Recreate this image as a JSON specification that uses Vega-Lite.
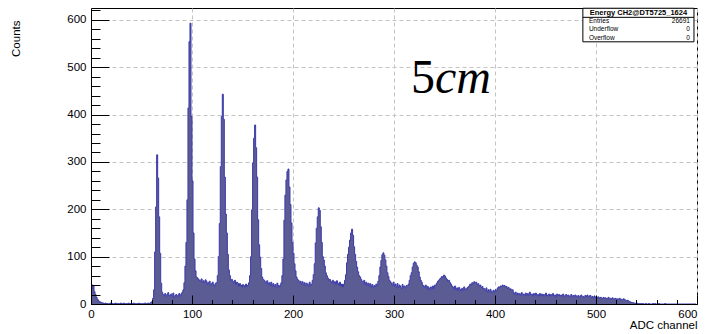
{
"$schema": "https://vega.github.io/schema/vega-lite/v6.json",
"width": 606, "height": 296,
"autosize": "none",
"padding": {"left": 91, "top": 8, "right": 8, "bottom": 30},
"background": "white",
"config": {"view": {"stroke": "#000", "strokeWidth": 1}, "font": "Liberation Sans"},
"datasets": {
"hist": [
{"b":0,"c":30},{"b":1,"c":40},{"b":2,"c":38},{"b":3,"c":26},{"b":4,"c":20},{"b":5,"c":14},{"b":6,"c":10},{"b":7,"c":7},{"b":8,"c":5},{"b":9,"c":4},
{"b":10,"c":3},{"b":11,"c":2},{"b":12,"c":2},{"b":13,"c":1},{"b":14,"c":2},{"b":15,"c":1},{"b":16,"c":1},{"b":17,"c":0},{"b":18,"c":1},{"b":19,"c":2},
{"b":20,"c":1},{"b":21,"c":1},{"b":22,"c":0},{"b":23,"c":1},{"b":24,"c":2},{"b":25,"c":1},{"b":26,"c":1},{"b":27,"c":1},{"b":28,"c":0},{"b":29,"c":2},
{"b":30,"c":1},{"b":31,"c":1},{"b":32,"c":2},{"b":33,"c":1},{"b":34,"c":0},{"b":35,"c":1},{"b":36,"c":1},{"b":37,"c":2},{"b":38,"c":1},{"b":39,"c":1},
{"b":40,"c":0},{"b":41,"c":1},{"b":42,"c":2},{"b":43,"c":1},{"b":44,"c":1},{"b":45,"c":0},{"b":46,"c":1},{"b":47,"c":2},{"b":48,"c":1},{"b":49,"c":1},
{"b":50,"c":0},{"b":51,"c":1},{"b":52,"c":1},{"b":53,"c":2},{"b":54,"c":1},{"b":55,"c":1},{"b":56,"c":2},{"b":57,"c":1},{"b":58,"c":2},{"b":59,"c":3},
{"b":60,"c":5},{"b":61,"c":12},{"b":62,"c":30},{"b":63,"c":110},{"b":64,"c":205},{"b":65,"c":315},{"b":66,"c":266},{"b":67,"c":184},{"b":68,"c":107},{"b":69,"c":44},
{"b":70,"c":25},{"b":71,"c":20},{"b":72,"c":18},{"b":73,"c":22},{"b":74,"c":15},{"b":75,"c":20},{"b":76,"c":24},{"b":77,"c":17},{"b":78,"c":19},{"b":79,"c":21},
{"b":80,"c":16},{"b":81,"c":23},{"b":82,"c":14},{"b":83,"c":18},{"b":84,"c":20},{"b":85,"c":15},{"b":86,"c":19},{"b":87,"c":22},{"b":88,"c":17},{"b":89,"c":21},
{"b":90,"c":25},{"b":91,"c":30},{"b":92,"c":45},{"b":93,"c":80},{"b":94,"c":130},{"b":95,"c":220},{"b":96,"c":414},{"b":97,"c":554},{"b":98,"c":593},{"b":99,"c":396},
{"b":100,"c":260},{"b":101,"c":150},{"b":102,"c":95},{"b":103,"c":70},{"b":104,"c":57},{"b":105,"c":55},{"b":106,"c":52},{"b":107,"c":50},{"b":108,"c":48},{"b":109,"c":53},
{"b":110,"c":46},{"b":111,"c":49},{"b":112,"c":44},{"b":113,"c":51},{"b":114,"c":47},{"b":115,"c":42},{"b":116,"c":45},{"b":117,"c":48},{"b":118,"c":40},{"b":119,"c":43},
{"b":120,"c":46},{"b":121,"c":41},{"b":122,"c":38},{"b":123,"c":44},{"b":124,"c":45},{"b":125,"c":60},{"b":126,"c":100},{"b":127,"c":170},{"b":128,"c":290},{"b":129,"c":396},
{"b":130,"c":443},{"b":131,"c":390},{"b":132,"c":268},{"b":133,"c":190},{"b":134,"c":150},{"b":135,"c":105},{"b":136,"c":72},{"b":137,"c":60},{"b":138,"c":50},{"b":139,"c":52},
{"b":140,"c":48},{"b":141,"c":45},{"b":142,"c":50},{"b":143,"c":42},{"b":144,"c":46},{"b":145,"c":44},{"b":146,"c":38},{"b":147,"c":43},{"b":148,"c":40},{"b":149,"c":36},
{"b":150,"c":41},{"b":151,"c":39},{"b":152,"c":35},{"b":153,"c":42},{"b":154,"c":37},{"b":155,"c":40},{"b":156,"c":45},{"b":157,"c":60},{"b":158,"c":100},{"b":159,"c":199},
{"b":160,"c":298},{"b":161,"c":350},{"b":162,"c":378},{"b":163,"c":330},{"b":164,"c":268},{"b":165,"c":178},{"b":166,"c":125},{"b":167,"c":99},{"b":168,"c":75},{"b":169,"c":57},
{"b":170,"c":52},{"b":171,"c":50},{"b":172,"c":47},{"b":173,"c":44},{"b":174,"c":49},{"b":175,"c":42},{"b":176,"c":45},{"b":177,"c":40},{"b":178,"c":46},{"b":179,"c":38},
{"b":180,"c":43},{"b":181,"c":37},{"b":182,"c":41},{"b":183,"c":35},{"b":184,"c":44},{"b":185,"c":39},{"b":186,"c":36},{"b":187,"c":40},{"b":188,"c":45},{"b":189,"c":60},
{"b":190,"c":95},{"b":191,"c":177},{"b":192,"c":230},{"b":193,"c":262},{"b":194,"c":280},{"b":195,"c":285},{"b":196,"c":247},{"b":197,"c":210},{"b":198,"c":171},{"b":199,"c":130},
{"b":200,"c":107},{"b":201,"c":85},{"b":202,"c":70},{"b":203,"c":57},{"b":204,"c":52},{"b":205,"c":50},{"b":206,"c":46},{"b":207,"c":48},{"b":208,"c":43},{"b":209,"c":47},
{"b":210,"c":41},{"b":211,"c":45},{"b":212,"c":39},{"b":213,"c":44},{"b":214,"c":42},{"b":215,"c":38},{"b":216,"c":46},{"b":217,"c":40},{"b":218,"c":42},{"b":219,"c":50},
{"b":220,"c":62},{"b":221,"c":85},{"b":222,"c":129},{"b":223,"c":160},{"b":224,"c":184},{"b":225,"c":203},{"b":226,"c":198},{"b":227,"c":163},{"b":228,"c":130},{"b":229,"c":100},
{"b":230,"c":93},{"b":231,"c":80},{"b":232,"c":66},{"b":233,"c":60},{"b":234,"c":55},{"b":235,"c":50},{"b":236,"c":52},{"b":237,"c":48},{"b":238,"c":45},{"b":239,"c":50},
{"b":240,"c":43},{"b":241,"c":47},{"b":242,"c":41},{"b":243,"c":49},{"b":244,"c":44},{"b":245,"c":40},{"b":246,"c":46},{"b":247,"c":38},{"b":248,"c":42},{"b":249,"c":36},
{"b":250,"c":42},{"b":251,"c":50},{"b":252,"c":62},{"b":253,"c":87},{"b":254,"c":105},{"b":255,"c":120},{"b":256,"c":135},{"b":257,"c":150},{"b":258,"c":158},{"b":259,"c":145},
{"b":260,"c":121},{"b":261,"c":105},{"b":262,"c":90},{"b":263,"c":78},{"b":264,"c":68},{"b":265,"c":60},{"b":266,"c":57},{"b":267,"c":52},{"b":268,"c":48},{"b":269,"c":45},
{"b":270,"c":50},{"b":271,"c":42},{"b":272,"c":46},{"b":273,"c":40},{"b":274,"c":44},{"b":275,"c":38},{"b":276,"c":43},{"b":277,"c":36},{"b":278,"c":41},{"b":279,"c":35},
{"b":280,"c":39},{"b":281,"c":37},{"b":282,"c":42},{"b":283,"c":40},{"b":284,"c":48},{"b":285,"c":60},{"b":286,"c":78},{"b":287,"c":92},{"b":288,"c":104},{"b":289,"c":108},
{"b":290,"c":103},{"b":291,"c":93},{"b":292,"c":80},{"b":293,"c":66},{"b":294,"c":58},{"b":295,"c":50},{"b":296,"c":47},{"b":297,"c":44},{"b":298,"c":40},{"b":299,"c":46},
{"b":300,"c":38},{"b":301,"c":42},{"b":302,"c":36},{"b":303,"c":43},{"b":304,"c":35},{"b":305,"c":40},{"b":306,"c":37},{"b":307,"c":33},{"b":308,"c":41},{"b":309,"c":36},
{"b":310,"c":38},{"b":311,"c":34},{"b":312,"c":39},{"b":313,"c":38},{"b":314,"c":42},{"b":315,"c":50},{"b":316,"c":60},{"b":317,"c":66},{"b":318,"c":78},{"b":319,"c":86},
{"b":320,"c":89},{"b":321,"c":87},{"b":322,"c":82},{"b":323,"c":78},{"b":324,"c":68},{"b":325,"c":57},{"b":326,"c":50},{"b":327,"c":46},{"b":328,"c":40},{"b":329,"c":38},
{"b":330,"c":35},{"b":331,"c":40},{"b":332,"c":32},{"b":333,"c":37},{"b":334,"c":30},{"b":335,"c":34},{"b":336,"c":36},{"b":337,"c":31},{"b":338,"c":38},{"b":339,"c":33},
{"b":340,"c":40},{"b":341,"c":40},{"b":342,"c":44},{"b":343,"c":48},{"b":344,"c":50},{"b":345,"c":53},{"b":346,"c":55},{"b":347,"c":58},{"b":348,"c":56},{"b":349,"c":61},
{"b":350,"c":59},{"b":351,"c":55},{"b":352,"c":52},{"b":353,"c":48},{"b":354,"c":50},{"b":355,"c":45},{"b":356,"c":42},{"b":357,"c":38},{"b":358,"c":36},{"b":359,"c":32},
{"b":360,"c":38},{"b":361,"c":30},{"b":362,"c":34},{"b":363,"c":28},{"b":364,"c":35},{"b":365,"c":31},{"b":366,"c":27},{"b":367,"c":33},{"b":368,"c":29},{"b":369,"c":36},
{"b":370,"c":32},{"b":371,"c":30},{"b":372,"c":34},{"b":373,"c":36},{"b":374,"c":38},{"b":375,"c":42},{"b":376,"c":40},{"b":377,"c":45},{"b":378,"c":43},{"b":379,"c":47},
{"b":380,"c":44},{"b":381,"c":46},{"b":382,"c":41},{"b":383,"c":43},{"b":384,"c":38},{"b":385,"c":40},{"b":386,"c":35},{"b":387,"c":37},{"b":388,"c":33},{"b":389,"c":32},
{"b":390,"c":28},{"b":391,"c":34},{"b":392,"c":26},{"b":393,"c":30},{"b":394,"c":25},{"b":395,"c":31},{"b":396,"c":27},{"b":397,"c":24},{"b":398,"c":29},{"b":399,"c":26},
{"b":400,"c":30},{"b":401,"c":28},{"b":402,"c":33},{"b":403,"c":36},{"b":404,"c":35},{"b":405,"c":38},{"b":406,"c":37},{"b":407,"c":40},{"b":408,"c":38},{"b":409,"c":39},
{"b":410,"c":36},{"b":411,"c":37},{"b":412,"c":33},{"b":413,"c":35},{"b":414,"c":31},{"b":415,"c":32},{"b":416,"c":29},{"b":417,"c":30},{"b":418,"c":24},{"b":419,"c":21},
{"b":420,"c":25},{"b":421,"c":19},{"b":422,"c":23},{"b":423,"c":20},{"b":424,"c":22},{"b":425,"c":18},{"b":426,"c":24},{"b":427,"c":20},{"b":428,"c":21},{"b":429,"c":17},
{"b":430,"c":23},{"b":431,"c":19},{"b":432,"c":22},{"b":433,"c":18},{"b":434,"c":25},{"b":435,"c":20},{"b":436,"c":21},{"b":437,"c":17},{"b":438,"c":22},{"b":439,"c":19},
{"b":440,"c":23},{"b":441,"c":18},{"b":442,"c":20},{"b":443,"c":16},{"b":444,"c":22},{"b":445,"c":19},{"b":446,"c":21},{"b":447,"c":17},{"b":448,"c":20},{"b":449,"c":18},
{"b":450,"c":23},{"b":451,"c":17},{"b":452,"c":19},{"b":453,"c":21},{"b":454,"c":16},{"b":455,"c":20},{"b":456,"c":18},{"b":457,"c":22},{"b":458,"c":17},{"b":459,"c":19},
{"b":460,"c":15},{"b":461,"c":21},{"b":462,"c":18},{"b":463,"c":20},{"b":464,"c":16},{"b":465,"c":19},{"b":466,"c":17},{"b":467,"c":21},{"b":468,"c":15},{"b":469,"c":18},
{"b":470,"c":20},{"b":471,"c":16},{"b":472,"c":19},{"b":473,"c":17},{"b":474,"c":15},{"b":475,"c":20},{"b":476,"c":16},{"b":477,"c":18},{"b":478,"c":14},{"b":479,"c":19},
{"b":480,"c":17},{"b":481,"c":15},{"b":482,"c":18},{"b":483,"c":14},{"b":484,"c":17},{"b":485,"c":19},{"b":486,"c":15},{"b":487,"c":16},{"b":488,"c":14},{"b":489,"c":18},
{"b":490,"c":16},{"b":491,"c":19},{"b":492,"c":15},{"b":493,"c":17},{"b":494,"c":18},{"b":495,"c":14},{"b":496,"c":16},{"b":497,"c":13},{"b":498,"c":17},{"b":499,"c":14},
{"b":500,"c":16},{"b":501,"c":13},{"b":502,"c":15},{"b":503,"c":12},{"b":504,"c":14},{"b":505,"c":13},{"b":506,"c":11},{"b":507,"c":14},{"b":508,"c":12},{"b":509,"c":13},
{"b":510,"c":11},{"b":511,"c":12},{"b":512,"c":14},{"b":513,"c":10},{"b":514,"c":12},{"b":515,"c":11},{"b":516,"c":13},{"b":517,"c":10},{"b":518,"c":11},{"b":519,"c":12},
{"b":520,"c":9},{"b":521,"c":11},{"b":522,"c":10},{"b":523,"c":12},{"b":524,"c":9},{"b":525,"c":10},{"b":526,"c":8},{"b":527,"c":11},{"b":528,"c":9},{"b":529,"c":8},
{"b":530,"c":7},{"b":531,"c":8},{"b":532,"c":6},{"b":533,"c":5},{"b":534,"c":4},{"b":535,"c":3},{"b":536,"c":3},{"b":537,"c":2},{"b":538,"c":2},{"b":539,"c":1},
{"b":540,"c":2},{"b":541,"c":1},{"b":542,"c":1},{"b":543,"c":0},{"b":544,"c":1},{"b":545,"c":0},{"b":546,"c":1},{"b":547,"c":0},{"b":548,"c":0},{"b":549,"c":1},
{"b":550,"c":0},{"b":551,"c":0},{"b":552,"c":1},{"b":553,"c":0},{"b":554,"c":0},{"b":555,"c":0},{"b":556,"c":1},{"b":557,"c":0},{"b":558,"c":1},{"b":559,"c":0},
{"b":560,"c":0},{"b":561,"c":0},{"b":562,"c":1},{"b":563,"c":0},{"b":564,"c":0},{"b":565,"c":0},{"b":566,"c":0},{"b":567,"c":0},{"b":568,"c":1},{"b":569,"c":0},
{"b":570,"c":0},{"b":571,"c":0},{"b":572,"c":0},{"b":573,"c":0},{"b":574,"c":0},{"b":575,"c":0},{"b":576,"c":0},{"b":577,"c":0},{"b":578,"c":0},{"b":579,"c":0},
{"b":580,"c":0},{"b":581,"c":0},{"b":582,"c":0},{"b":583,"c":0},{"b":584,"c":0},{"b":585,"c":0},{"b":586,"c":0},{"b":587,"c":0},{"b":588,"c":0},{"b":589,"c":0},
{"b":590,"c":0},{"b":591,"c":0},{"b":592,"c":0},{"b":593,"c":0},{"b":594,"c":0},{"b":595,"c":0},{"b":596,"c":0},{"b":597,"c":0},{"b":598,"c":0},{"b":599,"c":0}
],
"box": [{"x1": 487, "x2": 597, "y1": 553.6, "y2": 624.5}],
"sep": [{"x1": 487, "x2": 597, "y": 605.3}],
"stitle": [{"t": "Energy CH2@DT5725_1624", "x": 542, "y": 615.3}],
"rows": [
{"label": "Entries", "value": "26691", "lx": 493, "vx": 593, "y": 598},
{"label": "Underflow", "value": "0", "lx": 493, "vx": 593, "y": 580.3},
{"label": "Overflow", "value": "0", "lx": 493, "vx": 593, "y": 562.6}
],
"n1": [{"t": "5", "x": 316.8, "y": 445.8}],
"n2": [{"t": "cm", "x": 340.6, "y": 445.8}]
},
"layer": [
{
"data": {"name": "hist"},
"mark": {"type": "area", "interpolate": "step-after", "fill": "#5C5C94", "opacity": 1, "fillOpacity": 1, "line": {"color": "#3A3AAA", "strokeWidth": 1, "opacity": 1}},
"encoding": {
"x": {"field": "b", "type": "quantitative", "scale": {"domain": [0, 600], "nice": false, "zero": false},
"axis": {"orient": "bottom", "values": [0,100,200,300,400,500,600], "ticks": false, "domain": false, "grid": true, "gridDash": [4,3], "gridColor": "#c4c4c4", "gridWidth": 1,
"labelFont": "Liberation Sans", "labelFontSize": 11.5, "labelColor": "#000", "labelPadding": 4, "labelFlush": false,
"labelAlign": {"expr": "datum.value == 600 ? 'right' : 'center'"},
"title": "ADC channel", "titleFont": "Liberation Sans", "titleFontSize": 11.5, "titleFontWeight": "normal", "titleColor": "#000",
"titleAlign": "right", "titleAnchor": "end", "titleX": 606, "titleY": 24, "titleBaseline": "alphabetic", "zindex": 0}},
"y": {"field": "c", "type": "quantitative", "scale": {"domain": [0, 625], "nice": false, "zero": true},
"axis": {"orient": "left", "values": [0,100,200,300,400,500,600], "ticks": false, "domain": false, "grid": true, "gridDash": [4,3], "gridColor": "#c4c4c4", "gridWidth": 1,
"labelFont": "Liberation Sans", "labelFontSize": 11.5, "labelColor": "#000", "labelPadding": 5, "labelFlush": false,
"title": "Counts", "titleFont": "Liberation Sans", "titleFontSize": 11.5, "titleFontWeight": "normal", "titleColor": "#000",
"titleAngle": -90, "titleAlign": "right", "titleBaseline": "middle", "titleX": -75, "titleY": 12, "zindex": 0}}
}
},
{
"data": {"name": "box"},
"mark": {"type": "rect", "fill": "white", "stroke": "#000", "strokeWidth": 1},
"encoding": {
"x": {"field": "x1", "type": "quantitative", "scale": {"domain": [0, 600], "nice": false, "zero": false},
"axis": {"orient": "bottom", "values": [0,100,200,300,400,500,600], "labels": false, "grid": false, "domain": true, "domainColor": "#000", "ticks": true, "tickSize": -9, "tickColor": "#000", "title": null, "zindex": 1}},
"x2": {"field": "x2"},
"y": {"field": "y1", "type": "quantitative", "scale": {"domain": [0, 625], "nice": false, "zero": true},
"axis": {"orient": "left", "values": [0,100,200,300,400,500,600], "labels": false, "grid": false, "domain": true, "domainColor": "#000", "ticks": true, "tickSize": -18, "tickColor": "#000", "title": null, "zindex": 1}},
"y2": {"field": "y2"}
}
},
{
"data": {"name": "sep"},
"mark": {"type": "rule", "stroke": "#000", "strokeWidth": 1},
"encoding": {
"x": {"field": "x1", "type": "quantitative", "scale": {"domain": [0, 600], "nice": false, "zero": false},
"axis": {"orient": "bottom", "values": [0,20,40,60,80,100,120,140,160,180,200,220,240,260,280,300,320,340,360,380,400,420,440,460,480,500,520,540,560,580,600], "labels": false, "grid": false, "domain": false, "ticks": true, "tickSize": -4.5, "tickColor": "#000", "title": null, "zindex": 1}},
"x2": {"field": "x2"},
"y": {"field": "y", "type": "quantitative", "scale": {"domain": [0, 625], "nice": false, "zero": true},
"axis": {"orient": "left", "values": [0,20,40,60,80,100,120,140,160,180,200,220,240,260,280,300,320,340,360,380,400,420,440,460,480,500,520,540,560,580,600,620], "labels": false, "grid": false, "domain": false, "ticks": true, "tickSize": -9, "tickColor": "#000", "title": null, "zindex": 1}}
}
},
{
"data": {"name": "stitle"},
"mark": {"type": "text", "font": "Liberation Sans", "fontWeight": "bold", "fontSize": 7.5, "align": "center", "baseline": "middle", "color": "#000"},
"encoding": {
"x": {"field": "x", "type": "quantitative", "scale": {"domain": [0, 600], "nice": false, "zero": false}, "axis": null},
"y": {"field": "y", "type": "quantitative", "scale": {"domain": [0, 625], "nice": false, "zero": true}, "axis": null},
"text": {"field": "t"}
}
},
{
"data": {"name": "rows"},
"mark": {"type": "text", "font": "Liberation Sans", "fontSize": 6.5, "align": "left", "baseline": "middle", "color": "#000"},
"encoding": {
"x": {"field": "lx", "type": "quantitative", "scale": {"domain": [0, 600], "nice": false, "zero": false}, "axis": null},
"y": {"field": "y", "type": "quantitative", "scale": {"domain": [0, 625], "nice": false, "zero": true}, "axis": null},
"text": {"field": "label"}
}
},
{
"data": {"name": "rows"},
"mark": {"type": "text", "font": "Liberation Sans", "fontSize": 6.5, "align": "right", "baseline": "middle", "color": "#000"},
"encoding": {
"x": {"field": "vx", "type": "quantitative", "scale": {"domain": [0, 600], "nice": false, "zero": false}, "axis": null},
"y": {"field": "y", "type": "quantitative", "scale": {"domain": [0, 625], "nice": false, "zero": true}, "axis": null},
"text": {"field": "value"}
}
},
{
"data": {"name": "n1"},
"mark": {"type": "text", "font": "Liberation Serif", "fontSize": 48, "align": "left", "baseline": "alphabetic", "color": "#000"},
"encoding": {
"x": {"field": "x", "type": "quantitative", "scale": {"domain": [0, 600], "nice": false, "zero": false}, "axis": null},
"y": {"field": "y", "type": "quantitative", "scale": {"domain": [0, 625], "nice": false, "zero": true}, "axis": null},
"text": {"field": "t"}
}
},
{
"data": {"name": "n2"},
"mark": {"type": "text", "font": "Liberation Serif", "fontStyle": "italic", "fontSize": 48, "align": "left", "baseline": "alphabetic", "color": "#000"},
"encoding": {
"x": {"field": "x", "type": "quantitative", "scale": {"domain": [0, 600], "nice": false, "zero": false}, "axis": null},
"y": {"field": "y", "type": "quantitative", "scale": {"domain": [0, 625], "nice": false, "zero": true}, "axis": null},
"text": {"field": "t"}
}
}
],
"resolve": {"axis": {"x": "independent", "y": "independent"}}
}
